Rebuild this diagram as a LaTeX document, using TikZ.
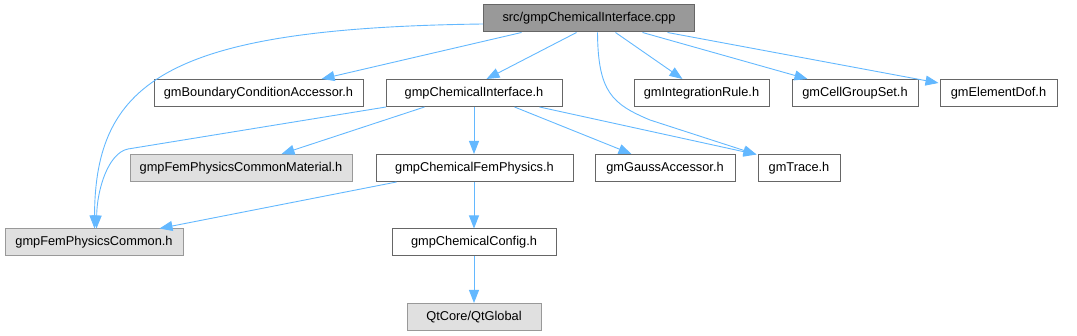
\documentclass[tikz,border=0pt]{standalone}
\usepackage{fontspec}
\setmainfont{Liberation Sans}
\usetikzlibrary{arrows.meta,calc}
\definecolor{edgeblue}{HTML}{63B8FF}
\definecolor{grayfill}{HTML}{E0E0E0}
\definecolor{grayline}{HTML}{999999}
\definecolor{darkline}{HTML}{666666}
\begin{document}
\begin{tikzpicture}[x=1pt,y=-1pt,
  box/.style={draw=darkline,fill=white,line width=1pt,minimum height=27pt,inner sep=0pt,
    font=\fontsize{12.8}{15}\selectfont,anchor=center},
  graybox/.style={box,draw=grayline,fill=grayfill},
  rootbox/.style={box,draw=darkline,fill=grayline},
  edge/.style={draw=edgeblue,line width=0.9pt,-{Triangle[length=13pt,width=10pt]}}]
\useasboundingbox (0,0) rectangle (1077,336);
\node[rootbox,minimum width=211pt] (root) at (589,18.5) {src/gmpChemicalInterface.cpp};
\node[box,minimum width=209pt] (bca) at (258.5,93) {gmBoundaryConditionAccessor.h};
\node[box,minimum width=176pt] (cih) at (474,93) {gmpChemicalInterface.h};
\node[box,minimum width=135pt] (ir) at (701.5,93) {gmIntegrationRule.h};
\node[box,minimum width=126pt] (cgs) at (855,93) {gmCellGroupSet.h};
\node[box,minimum width=117pt] (ed) at (998.5,93) {gmElementDof.h};
\node[graybox,minimum width=222pt] (fpcm) at (241,168) {gmpFemPhysicsCommonMaterial.h};
\node[box,minimum width=197pt] (cfp) at (474.5,168) {gmpChemicalFemPhysics.h};
\node[box,minimum width=140pt] (ga) at (665,168) {gmGaussAccessor.h};
\node[box,minimum width=82pt] (tr) at (799,168) {gmTrace.h};
\node[graybox,minimum width=178pt] (fpc) at (94,242.5) {gmpFemPhysicsCommon.h};
\node[box,minimum width=164pt] (cc) at (474,242.5) {gmpChemicalConfig.h};
\node[graybox,minimum width=134pt] (qt) at (474,317) {QtCore/QtGlobal};
% edges from root
\draw[edge] ($(root.south west)+(38.5,0)$) -- ($(bca.north west)+(168,0)$);
\draw[edge] ($(root.south west)+(93.5,0)$) -- ($(cih.north west)+(101,0)$);
\draw[edge] ($(root.south west)+(132.5,0)$) -- ($(ir.north west)+(49,0)$);
\draw[edge] ($(root.south west)+(159.5,0)$) -- ($(cgs.north west)+(16,0)$);
\draw[edge] ($(root.south west)+(184.5,0)$) -- ($(ed.north west)+(-1,4)$);
\draw[edge] ($(root.west)+(0,5.5)$) .. controls (170,28) and (95,80) .. ($(fpc.north west)+(90,0)$);
\draw[edge] ($(root.south west)+(114.5,0)$) .. controls (598,92) and (612,104) .. (650,120) -- ($(tr.north west)+(-1,0.5)$);
% edges from gmpChemicalInterface.h
\draw[edge] ($(cih.south west)+(39,0)$) -- ($(fpcm.north west)+(152,0)$);
\draw[edge] (cih.south) -- (cih.south |- cfp.north);
\draw[edge] ($(cih.south west)+(129,0)$) -- ($(ga.north west)+(37,0)$);
\draw[edge] ($(cih.south west)+(154,0)$) -- ($(tr.north west)+(-1,0.5)$);
\draw[edge] ($(cih.south west)+(0.5,0)$) -- (128,149) .. controls (108,153) and (97,190) .. ($(fpc.north west)+(92,0)$);
% others
\draw[edge] ($(cfp.south west)+(21,0)$) -- ($(fpc.north west)+(155,0)$);
\draw[edge] (cc.north |- cfp.south) -- (cc.north);
\draw[edge] (cc.south) -- (qt.north);
\end{tikzpicture}
\end{document}
